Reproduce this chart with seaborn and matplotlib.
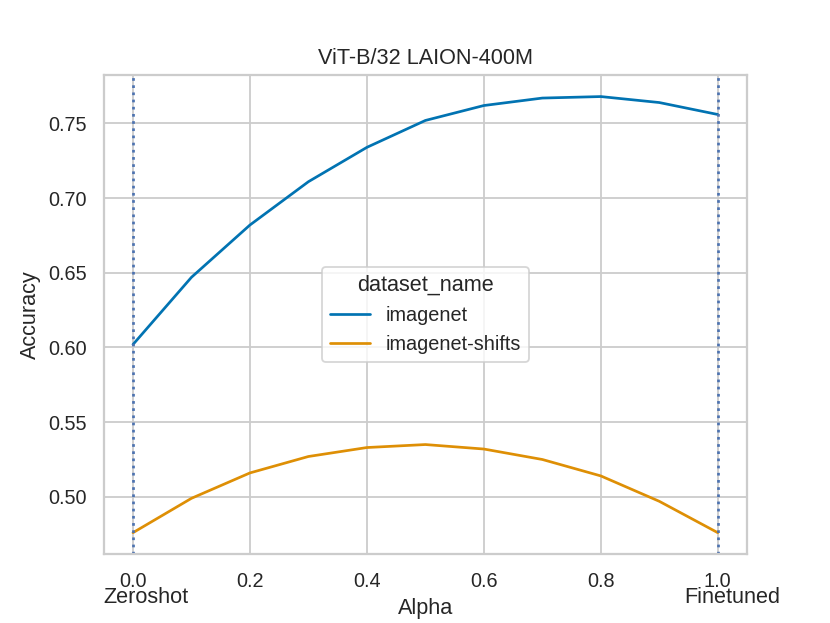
import pandas as pd
import seaborn as sns
import matplotlib.pyplot as plt
import matplotlib.transforms as mtransforms

# values
alphas = [0.0, 0.1, 0.2, 0.3, 0.4, 0.5, 0.6, 0.7, 0.8, 0.9, 1.0]
imagenet_acc = [0.602, 0.647, 0.682, 0.711, 0.734, 0.752, 0.762, 0.767, 0.768, 0.764, 0.756]
shifts_acc = [0.476, 0.499, 0.516, 0.527, 0.533, 0.535, 0.532, 0.525, 0.514, 0.497, 0.476]
dataset_names = ["imagenet", "imagenet-shifts"]

sns.set_theme(style="whitegrid", palette="colorblind")
plt.rcParams['font.family'] = ['Liberation Sans', 'DejaVu Sans']

df = pd.DataFrame({
    "alpha": alphas * 2,
    "accuracy": imagenet_acc + shifts_acc,
    "dataset_name": [dataset_names[0]] * len(alphas) + [dataset_names[1]] * len(alphas),
})

fig, ax = plt.subplots(figsize=(830 / 130, 623 / 130), dpi=130)
sns.lineplot(data=df, x="alpha", y="accuracy", hue="dataset_name", ax=ax)

# zeroshot / finetuned markers
ax.axvline(x=alphas[0], linestyle=':', color='#4c72b0')
ax.axvline(x=alphas[-1], linestyle=':', color='#4c72b0')

trans = mtransforms.blended_transform_factory(ax.transData, ax.transAxes)
ax.text(-0.05, -0.101, "Zeroshot", transform=trans, ha='left', va='baseline', fontsize=12)
ax.text(0.942, -0.101, "Finetuned", transform=trans, ha='left', va='baseline', fontsize=12)

ax.set_xlabel("Alpha")
ax.set_ylabel("Accuracy")
ax.set_title("ViT-B/32 LAION-400M")
ax.legend(title="dataset_name", loc="center")

plt.savefig("out.png", dpi=130)
